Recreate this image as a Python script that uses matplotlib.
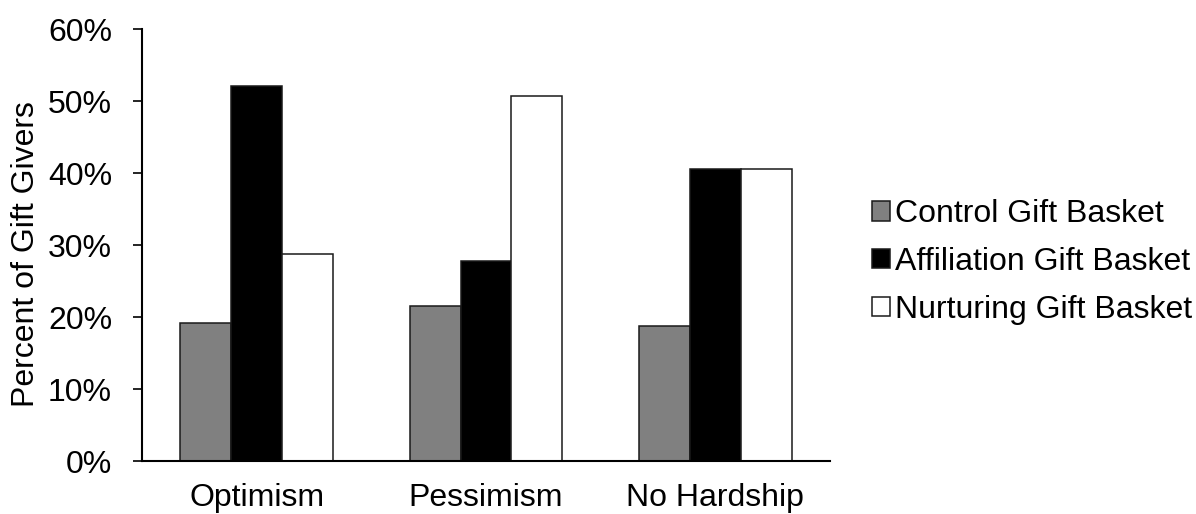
import numpy as np
import matplotlib.pyplot as plt
from matplotlib.ticker import PercentFormatter

plt.rcParams['font.family'] = ['Liberation Sans', 'DejaVu Sans']

conditions = ['Optimism', 'Pessimism', 'No Hardship']
series_names = ['Control Gift Basket', 'Affiliation Gift Basket', 'Nurturing Gift Basket']
control = [19.2, 21.5, 18.7]
affiliation = [52.1, 27.8, 40.6]
nurturing = [28.8, 50.7, 40.6]
fills = ['#808080', '#000000', '#ffffff']

fig = plt.figure(figsize=(11.96, 5.14), dpi=100)
ax = fig.add_axes([0.1187, 0.103, 0.5753, 0.840])

x = np.arange(len(conditions))
width = 0.222
for i, (vals, name, c) in enumerate(zip([control, affiliation, nurturing], series_names, fills)):
    ax.bar(x + (i - 1) * width, vals, width, color=c, edgecolor='#1a1a1a',
           linewidth=1.1, label=name, zorder=2)

ax.set_xlim(-0.5, 2.5)
ax.set_ylim(0, 60)
ax.set_yticks(np.arange(0, 61, 10))
ax.yaxis.set_major_formatter(PercentFormatter(decimals=0))
ax.set_xticks(x)
ax.set_xticklabels(conditions)

ax.spines['top'].set_visible(False)
ax.spines['right'].set_visible(False)
ax.spines['left'].set_linewidth(1.5)
ax.spines['bottom'].set_linewidth(1.5)
ax.tick_params(axis='y', length=6.5, width=1.2, pad=15, labelsize=23)
ax.tick_params(axis='x', length=0, pad=16, labelsize=23)

ax.set_ylabel('Percent of Gift Givers', fontsize=23)
ax.yaxis.set_label_coords(-0.147, 0.48)

fig.legend(loc='center left', bbox_to_anchor=(872 / 1196, 1 - 262 / 514),
           frameon=False, fontsize=23, handlelength=0.56, handleheight=0.56,
           handletextpad=0.16, labelspacing=0.55, borderpad=0, borderaxespad=0)

plt.savefig('out.png', dpi=100)
